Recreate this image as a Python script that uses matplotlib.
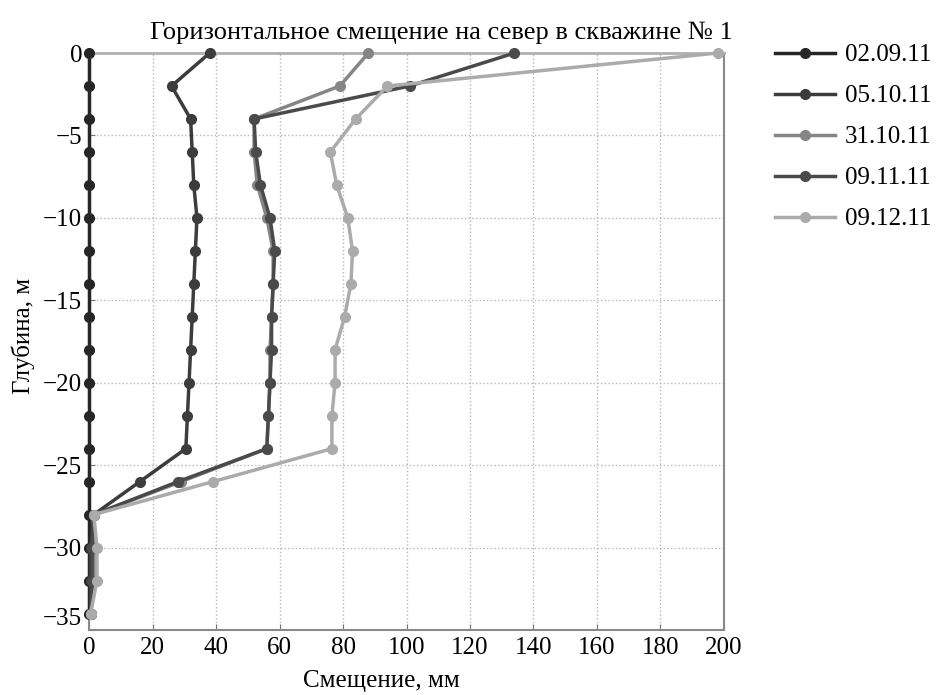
import matplotlib
matplotlib.use("Agg")
import matplotlib.pyplot as plt

plt.rcParams['font.family'] = ['Liberation Serif', 'DejaVu Serif']

# depth, m
depth = [0, -2, -4, -6, -8, -10, -12, -14, -16, -18, -20, -22, -24, -26, -28, -30, -32, -34]

# displacement, mm
s_020911 = [0, 0, 0, 0, 0, 0, 0, 0, 0, 0, 0, 0, 0, 0, 0, 0, 0, 0]
s_051011 = [38, 26, 32, 32.5, 33, 34, 33.5, 33, 32.5, 32, 31.5, 31, 30.5, 16, 1.5, 0.5, 0.5, 0.5]
s_311011 = [88, 79, 52, 52, 53, 56, 58, 58, 57.5, 57, 57, 56.5, 56, 29, 1.5, 2, 2, 0.5]
s_091111 = [134, 101, 52, 52.5, 54, 57, 58.5, 58, 57.5, 57.5, 57, 56.5, 56, 28, 1.5, 1, 1, 0.5]
s_091211 = [198, 94, 84, 76, 78, 81.5, 83, 82.5, 80.5, 77.5, 77.5, 76.5, 76.5, 39, 1.5, 2.5, 2.5, 0.5]

labels = ['02.09.11', '05.10.11', '31.10.11', '09.11.11', '09.12.11']
series = [s_020911, s_051011, s_311011, s_091111, s_091211]
colors = ['#262626', '#3c3c3c', '#858585', '#4a4a4a', '#ababab']

fig = plt.figure(figsize=(9.4, 6.95), dpi=100)
ax = fig.add_axes([0.0947, 0.0935, 0.6755, 0.8302])

for vals, lab, c in zip(series, labels, colors):
    ax.plot(vals, depth, '-o', color=c, lw=2.5, ms=7, label=lab, clip_on=False, zorder=3)

ax.set_xlim(0, 200)
ax.set_ylim(-35, 0)
ax.set_xticks(range(0, 201, 20))
ax.set_yticks(range(0, -36, -5))
ax.set_yticklabels(['0', '\u22125', '\u221210', '\u221215', '\u221220', '\u221225', '\u221230', '\u221235'])
ax.grid(True, ls=':', color='#b8b8b8', lw=1)
ax.tick_params(direction='in', length=4, color='#777777', labelsize=18, pad=5)
ax.get_yticklabels()[-1].set_va('bottom')

for side in ['left', 'bottom', 'right']:
    ax.spines[side].set_color('#8a8a8a')
    ax.spines[side].set_linewidth(1.5)
ax.spines['top'].set_color('#b0b0b0')
ax.spines['top'].set_linewidth(2)

ax.set_title('Горизонтальное смещение на север в скважине № 1', fontsize=19, x=0.555, pad=10)
ax.set_xlabel('Смещение, мм', fontsize=18)
ax.xaxis.set_label_coords(0.46, -0.07)
ax.set_ylabel('Глубина, м', fontsize=18)
ax.yaxis.set_label_coords(-0.085, 0.51)

ax.legend(loc='upper left', bbox_to_anchor=(1.045, 1.055), frameon=False, fontsize=18,
          handlelength=2.4, labelspacing=0.74, handletextpad=0.4)

fig.savefig('out.png', dpi=100)
